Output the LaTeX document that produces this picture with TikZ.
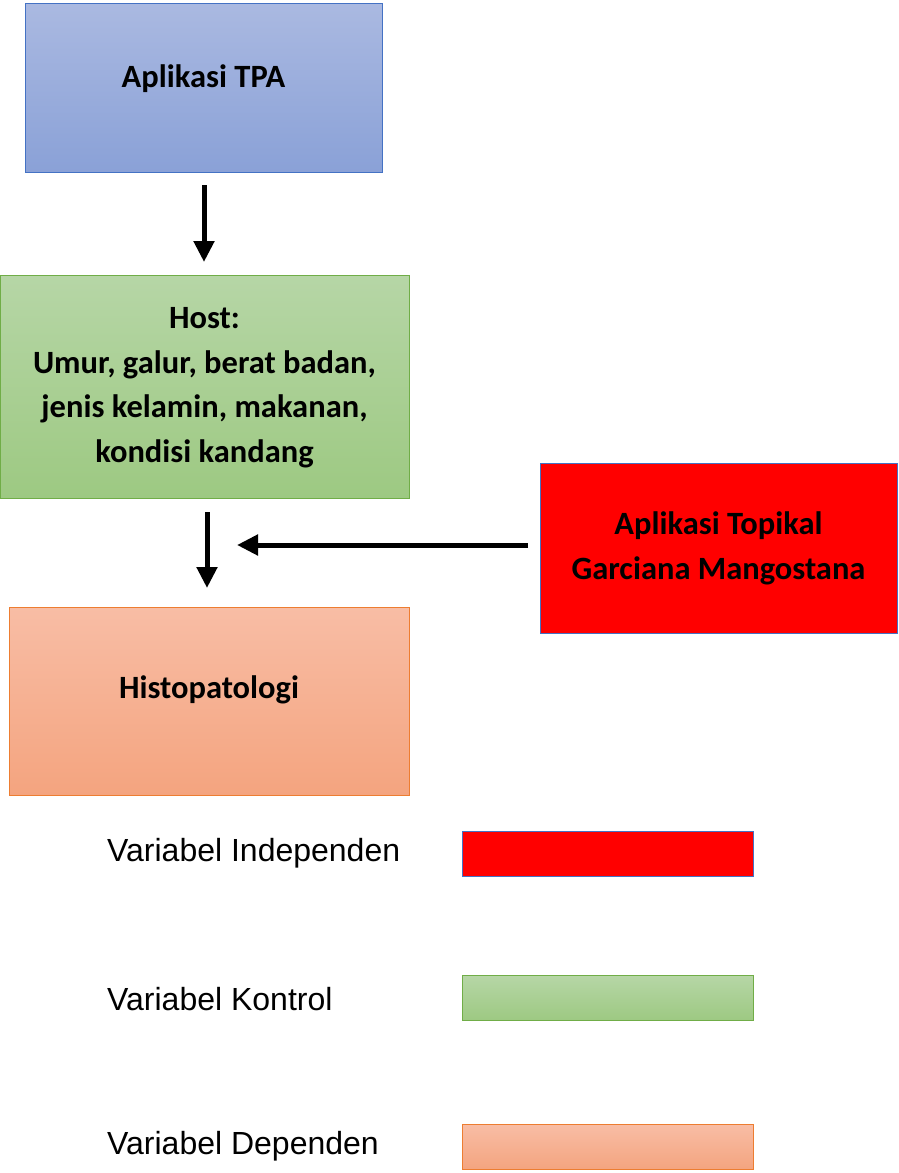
\documentclass[tikz,border=0pt]{standalone}
\usepackage{fontspec}
\setmainfont{Carlito}
\newfontfamily\arialfont{Liberation Sans}
\usetikzlibrary{arrows.meta}

\definecolor{bluetop}{HTML}{AAB9E1}
\definecolor{bluebot}{HTML}{8AA1D7}
\definecolor{blueline}{HTML}{4472C4}
\definecolor{greentop}{HTML}{B6D6A6}
\definecolor{greenbot}{HTML}{9DC982}
\definecolor{greenline}{HTML}{70AD47}
\definecolor{orangetop}{HTML}{F8BDA5}
\definecolor{orangebot}{HTML}{F4A47F}
\definecolor{orangeline}{HTML}{ED7D31}

\tikzset{
  kotak/.style={draw, line width=1pt, inner sep=0pt, align=center,
    font=\fontsize{32.5}{44.7}\selectfont\bfseries},
  biru/.style={kotak, draw=blueline, top color=bluetop, bottom color=bluebot},
  hijau/.style={kotak, draw=greenline, top color=greentop, bottom color=greenbot},
  oranye/.style={kotak, draw=orangeline, top color=orangetop, bottom color=orangebot},
  merah/.style={kotak, draw=blueline, fill=red},
  panah/.style={line width=5pt, -{Triangle[width=20pt,length=21pt]}},
  keterangan/.style={anchor=west, inner sep=0pt, font=\arialfont\fontsize{32}{36}\selectfont}
}

\begin{document}
\begin{tikzpicture}[x=1pt, y=-1pt]
  \useasboundingbox (0,0) rectangle (899,1173);

  % kotak aplikasi TPA
  \node[biru, minimum width=357, minimum height=169] (tpa) at (203.5,87.5) {\raisebox{23pt}{Aplikasi TPA}};

  % kotak host
  \node[hijau, minimum width=409, minimum height=223] (host) at (204.5,386.5)
    {\raisebox{-11pt}{\begin{tabular}{@{}c@{}}Host:\\Umur, galur, berat badan,\\jenis kelamin, makanan,\\kondisi kandang\end{tabular}}};

  % kotak aplikasi topikal
  \node[merah, minimum width=357, minimum height=170] (topikal) at (718.5,548)
    {Aplikasi Topikal\\Garciana Mangostana};

  % kotak histopatologi
  \node[oranye, minimum width=400, minimum height=188] (histo) at (209,701) {\raisebox{27pt}{Histopatologi}};

  % titik ujung panah
  \coordinate (a1) at (204,185);
  \coordinate (a2) at (204,262);
  \coordinate (b1) at (207,512);
  \coordinate (b2) at (207,588);
  \coordinate (c1) at (528,545);
  \coordinate (c2) at (237,545);

  % panah
  \draw[panah] (a1) -- (a2);
  \draw[panah] (b1) -- (b2);
  \draw[panah] (c1) -- (c2);

  % keterangan
  \node[keterangan] (ketind) at (107,853) {Variabel Independen};
  \node[merah, minimum width=291, minimum height=45] (boxind) at (607.5,853.5) {};

  \node[keterangan] (ketkon) at (107,999) {Variabel Kontrol};
  \node[hijau, minimum width=291, minimum height=45] (boxkon) at (607.5,998) {};

  \node[keterangan] (ketdep) at (107,1146) {Variabel Dependen};
  \node[oranye, minimum width=291, minimum height=45] (boxdep) at (607.5,1147) {};
\end{tikzpicture}
\end{document}
